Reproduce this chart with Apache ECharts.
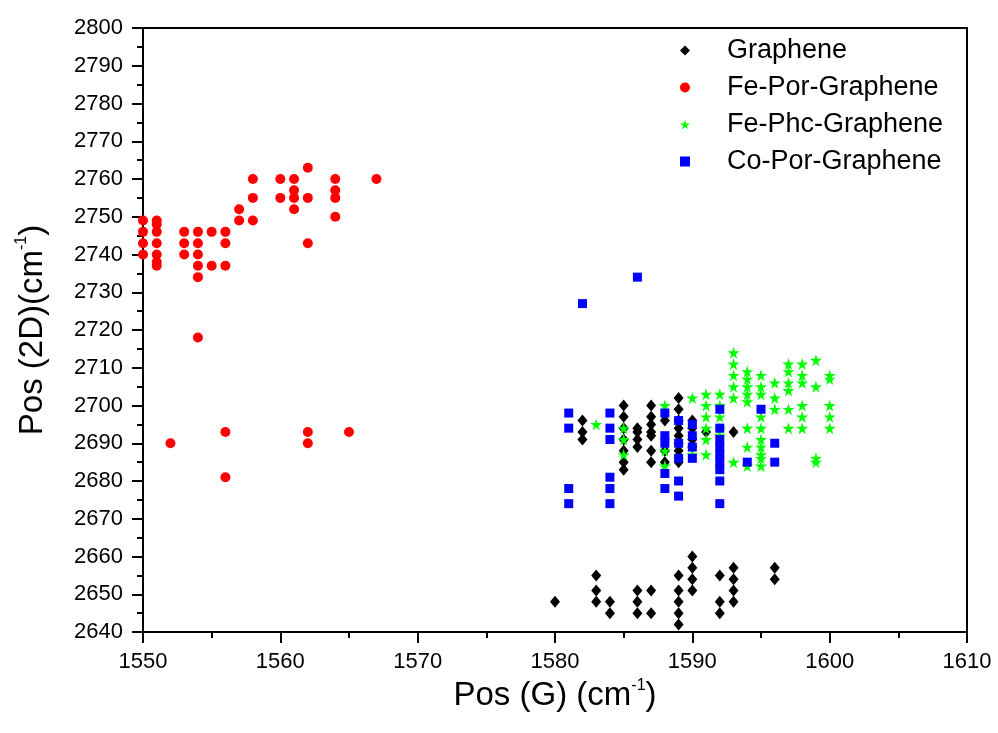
<!DOCTYPE html>
<html>
<head>
<meta charset="utf-8">
<script src="https://cdn.jsdelivr.net/npm/echarts@6/dist/echarts.min.js"></script>
<style>
  html, body { margin: 0; padding: 0; background: #fff; }
  #chart { width: 998px; height: 733px; }
</style>
</head>
<body>
<div id="chart"></div>
<script>
// [Pos(G), Pos(2D)] pairs per sample
const graphene = [
  [1580, 2648], [1583, 2655], [1583, 2651], [1583, 2648], [1584, 2648], [1584, 2645],
  [1586, 2651], [1586, 2648], [1586, 2645], [1587, 2651], [1587, 2645],
  [1589, 2655], [1589, 2651], [1589, 2648], [1589, 2645], [1589, 2642],
  [1590, 2660], [1590, 2657], [1590, 2654], [1590, 2651],
  [1592, 2655], [1592, 2648], [1592, 2645],
  [1593, 2657], [1593, 2654], [1593, 2651], [1593, 2648], [1596, 2657], [1596, 2654],
  [1582, 2696], [1582, 2693], [1582, 2691],
  [1585, 2700], [1585, 2697], [1585, 2694], [1585, 2691], [1585, 2688], [1585, 2685], [1585, 2683],
  [1586, 2694], [1586, 2693], [1586, 2691], [1586, 2689],
  [1587, 2700], [1587, 2697], [1587, 2695], [1587, 2693], [1587, 2692], [1587, 2688], [1587, 2685],
  [1588, 2696], [1588, 2688], [1588, 2685],
  [1589, 2702], [1589, 2699], [1589, 2696], [1589, 2694], [1589, 2692], [1589, 2690], [1589, 2688], [1589, 2686], [1589, 2685],
  [1590, 2696], [1590, 2694], [1590, 2691], [1590, 2689],
  [1591, 2693], [1593, 2693]
];

const fePor = [
  [1550, 2749], [1550, 2746], [1550, 2743], [1550, 2740],
  [1551, 2749], [1551, 2748], [1551, 2746], [1551, 2743], [1551, 2740], [1551, 2738], [1551, 2737],
  [1553, 2746], [1553, 2743], [1553, 2740],
  [1554, 2746], [1554, 2743], [1554, 2740], [1554, 2737], [1554, 2734], [1554, 2718],
  [1555, 2746], [1555, 2737], [1556, 2746], [1556, 2743], [1556, 2737],
  [1557, 2752], [1557, 2749], [1558, 2760], [1558, 2755], [1558, 2749],
  [1560, 2760], [1560, 2755], [1561, 2760], [1561, 2757], [1561, 2755], [1561, 2752],
  [1562, 2763], [1562, 2755], [1562, 2743],
  [1564, 2760], [1564, 2757], [1564, 2755], [1564, 2750], [1567, 2760],
  [1552, 2690], [1556, 2693], [1556, 2681], [1562, 2693], [1562, 2690], [1565, 2693]
];

const fePhc = [
  [1583, 2695], [1585, 2694], [1585, 2691], [1585, 2687],
  [1588, 2700], [1588, 2688], [1588, 2684], [1590, 2702], [1590, 2687],
  [1591, 2703], [1591, 2700], [1591, 2697], [1591, 2694], [1591, 2691], [1591, 2687],
  [1592, 2703], [1592, 2700], [1592, 2697], [1592, 2694], [1592, 2692],
  [1593, 2714], [1593, 2711], [1593, 2708], [1593, 2705], [1593, 2702], [1593, 2685],
  [1594, 2709], [1594, 2707], [1594, 2705], [1594, 2703], [1594, 2701], [1594, 2694], [1594, 2689], [1594, 2684],
  [1595, 2708], [1595, 2705], [1595, 2703], [1595, 2697], [1595, 2694], [1595, 2691], [1595, 2689], [1595, 2687], [1595, 2686], [1595, 2684],
  [1596, 2706], [1596, 2702], [1596, 2699],
  [1597, 2711], [1597, 2709], [1597, 2706], [1597, 2704], [1597, 2699], [1597, 2694],
  [1598, 2711], [1598, 2708], [1598, 2706], [1598, 2700], [1598, 2697], [1598, 2694],
  [1599, 2712], [1599, 2705], [1599, 2686], [1599, 2685],
  [1600, 2708], [1600, 2707], [1600, 2700], [1600, 2697], [1600, 2694]
];

const coPor = [
  [1581, 2698], [1581, 2694], [1581, 2678], [1581, 2674], [1582, 2727],
  [1584, 2698], [1584, 2694], [1584, 2691], [1584, 2681], [1584, 2678], [1584, 2674],
  [1586, 2734],
  [1588, 2698], [1588, 2692], [1588, 2690], [1588, 2682], [1588, 2678],
  [1589, 2696], [1589, 2690], [1589, 2686], [1589, 2680], [1589, 2676],
  [1590, 2695], [1590, 2692], [1590, 2689], [1590, 2686],
  [1592, 2699], [1592, 2694], [1592, 2691], [1592, 2689], [1592, 2687], [1592, 2685], [1592, 2683], [1592, 2680], [1592, 2674],
  [1594, 2685], [1595, 2699], [1596, 2690], [1596, 2685]
];

const seriesNames = ["Graphene", "Fe-Por-Graphene", "Fe-Phc-Graphene", "Co-Por-Graphene"];

const font = "Liberation Sans, Arial, sans-serif";
const starPath = "path://M50,0 L61,35 L98,35 L68,57 L79,91 L50,70 L21,91 L32,57 L2,35 L39,35 Z";

const chart = echarts.init(document.getElementById("chart"));

function axisCommon() {
  return {
    type: "value",
    interval: 10,
    axisLine: { show: true, lineStyle: { color: "#000", width: 2 } },
    axisTick: { show: true, length: 11, lineStyle: { color: "#000", width: 2 } },
    minorTick: { show: true, splitNumber: 2, length: 6, lineStyle: { color: "#000", width: 2 } },
    splitLine: { show: false },
    nameTextStyle: {
      color: "#000",
      rich: {
        a: { fontSize: 33, fontFamily: font, color: "#000", lineHeight: 37 },
        s: { fontSize: 16, fontFamily: font, color: "#000", lineHeight: 16, verticalAlign: "top" }
      }
    }
  };
}

const option = {
  backgroundColor: "#fff",
  animation: false,
  grid: {
    left: 143, right: 31, top: 28, bottom: 101,
    show: true, borderColor: "#000", borderWidth: 2
  },
  legend: {
    orient: "vertical",
    left: 675,
    top: 32,
    itemWidth: 10,
    itemHeight: 10,
    itemGap: 10,
    textStyle: { color: "#000", fontSize: 27, fontFamily: font, padding: [0, 0, 0, 32] },
    data: seriesNames
  },
  xAxis: Object.assign(axisCommon(), {
    min: 1550, max: 1610,
    name: "{a|Pos (G) (cm}{s|-1}{a|)}",
    nameLocation: "middle",
    nameGap: 44,
    axisLabel: { color: "#000", fontSize: 22, fontFamily: font, margin: 19, formatter: v => String(v) }
  }),
  yAxis: Object.assign(axisCommon(), {
    min: 2640, max: 2800,
    name: "{a|Pos (2D)(cm}{s|-1}{a|)}",
    nameLocation: "middle",
    nameGap: 92,
    axisLabel: { color: "#000", fontSize: 22, fontFamily: font, margin: 20, formatter: v => String(v) }
  }),
  series: [
    {
      name: seriesNames[0], type: "scatter", data: graphene,
      symbol: "diamond", symbolSize: [10, 12],
      itemStyle: { color: "#000", opacity: 1 }
    },
    {
      name: seriesNames[1], type: "scatter", data: fePor,
      symbol: "circle", symbolSize: 10,
      itemStyle: { color: "#ff0000", opacity: 1 }
    },
    {
      name: seriesNames[2], type: "scatter", data: fePhc,
      symbol: starPath, symbolSize: 12,
      itemStyle: { color: "#00ff00", opacity: 1 }
    },
    {
      name: seriesNames[3], type: "scatter", data: coPor,
      symbol: "rect", symbolSize: 9,
      itemStyle: { color: "#0000ff", opacity: 1 }
    }
  ]
};

chart.setOption(option);
</script>
</body>
</html>
